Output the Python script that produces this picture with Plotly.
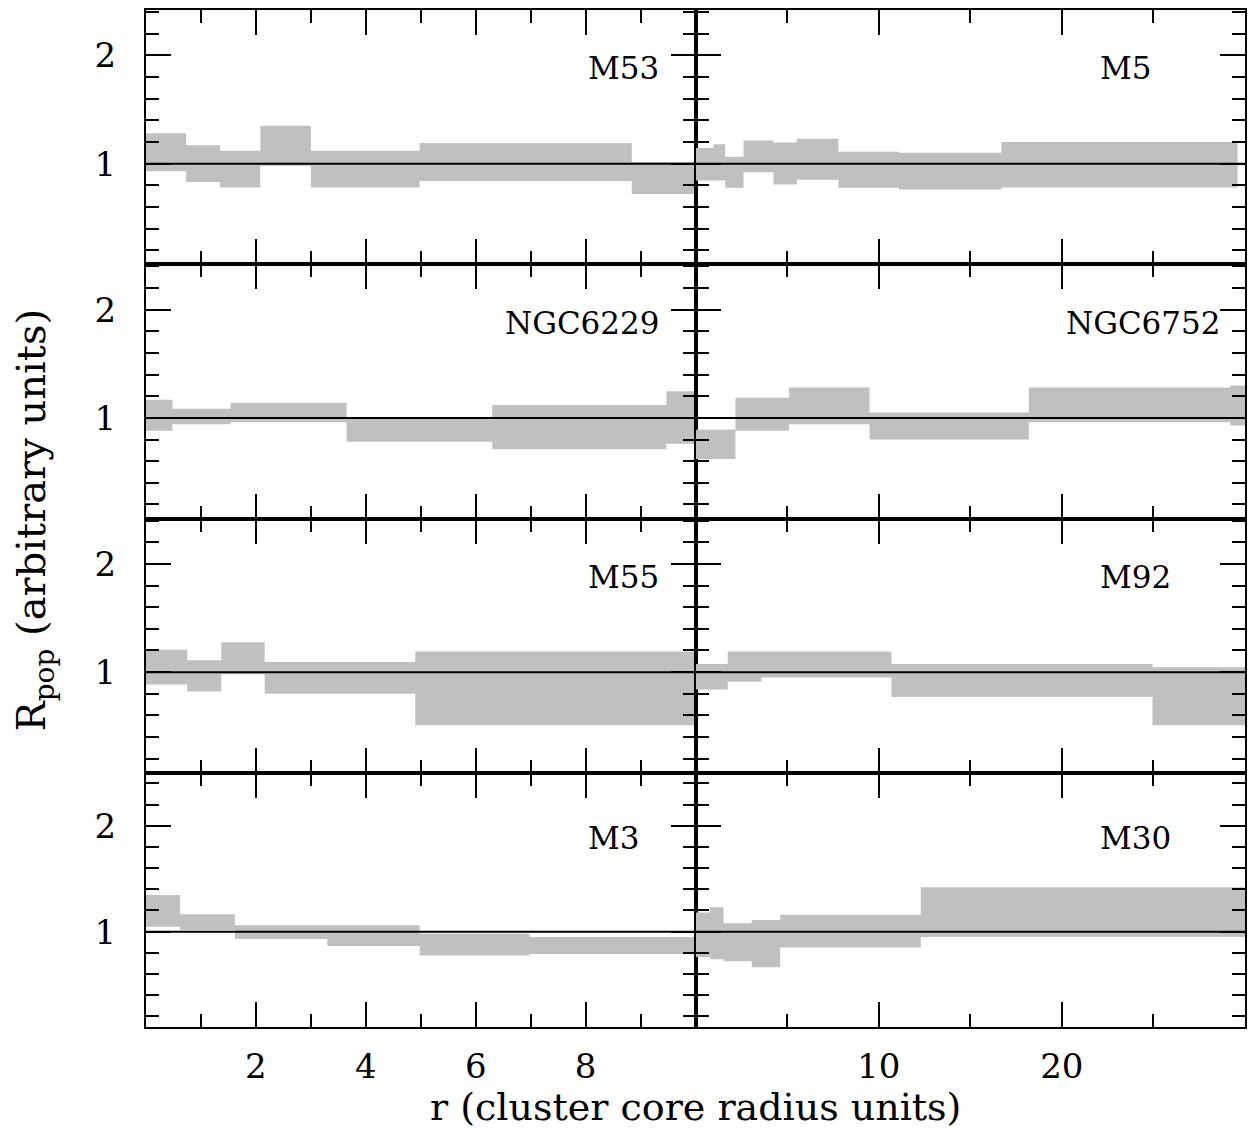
import plotly.graph_objects as go
from plotly.subplots import make_subplots

# ---------------- data ----------------
clusters = ["M53", "M5", "NGC6229", "NGC6752", "M55", "M92", "M3", "M30"]

m53_edges = [0, 0.73, 1.35, 2.08, 3.0, 4.98, 8.84, 10]
m53_upper = [1.28, 1.17, 1.12, 1.35, 1.12, 1.19, 1.015]
m53_lower = [0.93, 0.83, 0.78, 0.98, 0.78, 0.84, 0.72]

m5_edges = [0, 0.98, 1.62, 2.62, 4.26, 5.53, 7.8, 11.1, 16.7, 29.6]
m5_upper = [1.145, 1.18, 1.063, 1.214, 1.196, 1.23, 1.11, 1.10, 1.20]
m5_lower = [0.843, 0.843, 0.776, 0.92, 0.806, 0.85, 0.776, 0.76, 0.78]

ngc6229_edges = [0, 0.48, 1.54, 3.65, 6.3, 9.47, 10]
ngc6229_upper = [1.167, 1.085, 1.14, 1.0, 1.12, 1.245]
ngc6229_lower = [0.88, 0.94, 0.96, 0.78, 0.71, 0.76]

ngc6752_edges = [0, 2.18, 5.1, 9.5, 18.2, 29.2, 30]
ngc6752_upper = [0.89, 1.185, 1.28, 1.05, 1.28, 1.30]
ngc6752_lower = [0.62, 0.88, 0.94, 0.80, 0.96, 0.93]

m55_edges = [0, 0.75, 1.37, 2.16, 4.9, 10]
m55_upper = [1.206, 1.11, 1.276, 1.094, 1.19]
m55_lower = [0.885, 0.82, 0.98, 0.80, 0.51]

m92_edges = [0, 1.76, 3.6, 10.7, 24.95, 30]
m92_upper = [1.076, 1.19, 1.19, 1.076, 1.045]
m92_lower = [0.84, 0.91, 0.95, 0.77, 0.51]

m3_edges = [0, 0.62, 1.62, 3.3, 4.98, 6.98, 10]
m3_upper = [1.347, 1.164, 1.06, 1.06, 0.98, 0.95]
m3_lower = [1.047, 1.016, 0.93, 0.864, 0.776, 0.79]

m30_edges = [0, 0.80, 1.53, 3.07, 4.62, 12.3, 30]
m30_upper = [1.18, 1.23, 1.08, 1.11, 1.16, 1.42]
m30_lower = [0.76, 0.74, 0.72, 0.665, 0.85, 0.95]

left_xticks = [2, 4, 6, 8]
right_xticks = [10, 20]
yticks = [1, 2]

x_title = "r (cluster core radius units)"
y_title = "R<sub>pop</sub> (arbitrary units)"

series = [
    (m53_edges, m53_upper, m53_lower),
    (m5_edges, m5_upper, m5_lower),
    (ngc6229_edges, ngc6229_upper, ngc6229_lower),
    (ngc6752_edges, ngc6752_upper, ngc6752_lower),
    (m55_edges, m55_upper, m55_lower),
    (m92_edges, m92_upper, m92_lower),
    (m3_edges, m3_upper, m3_lower),
    (m30_edges, m30_upper, m30_lower),
]

# ---------------- layout / style ----------------
FONT = "DejaVu Serif"
GREY = "#c0c0c0"
col_range = {1: [0, 10], 2: [0, 30]}
col_ticks = {1: left_xticks, 2: right_xticks}
col_minor = {1: 1, 2: 5}
row_yrange = {1: [0.07, 2.42], 2: [0.07, 2.42], 3: [0.07, 2.42], 4: [0.1, 2.5]}
label_x = [8, 22, 6.5, 20.1, 8, 22, 8, 22]
label_y = 1.88

fig = make_subplots(rows=4, cols=2, horizontal_spacing=0, vertical_spacing=0)

for k, (name, (edges, up, lo)) in enumerate(zip(clusters, series)):
    row = k // 2 + 1
    col = k % 2 + 1
    xs, ys = [], []
    for i in range(len(up)):
        xs += [edges[i], edges[i + 1]]
        ys += [up[i], up[i]]
    for i in reversed(range(len(lo))):
        xs += [edges[i + 1], edges[i]]
        ys += [lo[i], lo[i]]
    fig.add_trace(go.Scatter(x=xs, y=ys, mode="lines", fill="toself",
                             fillcolor=GREY, line=dict(width=0, color=GREY),
                             hoverinfo="skip", showlegend=False),
                  row=row, col=col)
    xr = col_range[col]
    fig.add_trace(go.Scatter(x=xr, y=[1, 1], mode="lines",
                             line=dict(color="black", width=2),
                             hoverinfo="skip", showlegend=False),
                  row=row, col=col)
    fig.add_annotation(x=label_x[k], y=label_y, text=name, showarrow=False,
                       xanchor="left", yanchor="middle",
                       font=dict(family=FONT, size=31, color="black"),
                       row=row, col=col)

    fig.update_xaxes(range=xr, tickvals=col_ticks[col], ticks="inside",
                     ticklen=25, tickwidth=2, tickcolor="black",
                     showline=True, linewidth=2, linecolor="black",
                     mirror="ticks", showgrid=False, zeroline=False,
                     showticklabels=(row == 4), ticklabelstandoff=8,
                     tickfont=dict(family=FONT, size=34, color="black"),
                     minor=dict(dtick=col_minor[col], tick0=0, ticks="inside",
                                ticklen=13, tickwidth=2, tickcolor="black",
                                showgrid=False),
                     row=row, col=col)
    fig.update_yaxes(range=row_yrange[row], tickvals=yticks, ticks="inside",
                     ticklen=25, tickwidth=2, tickcolor="black",
                     showline=True, linewidth=2, linecolor="black",
                     mirror="ticks", showgrid=False, zeroline=False,
                     showticklabels=(col == 1), ticklabelstandoff=21,
                     tickfont=dict(family=FONT, size=34, color="black"),
                     minor=dict(dtick=0.2, tick0=0, ticks="inside",
                                ticklen=13, tickwidth=2, tickcolor="black",
                                showgrid=False),
                     row=row, col=col)

fig.add_annotation(xref="paper", yref="paper", x=0.5, y=-0.079,
                   text=x_title, showarrow=False, xanchor="center",
                   yanchor="middle",
                   font=dict(family=FONT, size=38, color="black"))
fig.add_annotation(xref="paper", yref="paper", x=-0.1015, y=0.4985,
                   text=y_title, showarrow=False, textangle=-90,
                   xanchor="center", yanchor="middle",
                   font=dict(family=FONT, size=40, color="black"))

fig.update_layout(width=1252, height=1134,
                  margin=dict(l=146, r=5, t=10, b=107),
                  paper_bgcolor="white", plot_bgcolor="white",
                  showlegend=False)

fig.write_html("out.html",
               config={"displayModeBar": False},
               post_script="document.body.style.margin='0';"
                           "document.body.style.overflow='hidden';")
